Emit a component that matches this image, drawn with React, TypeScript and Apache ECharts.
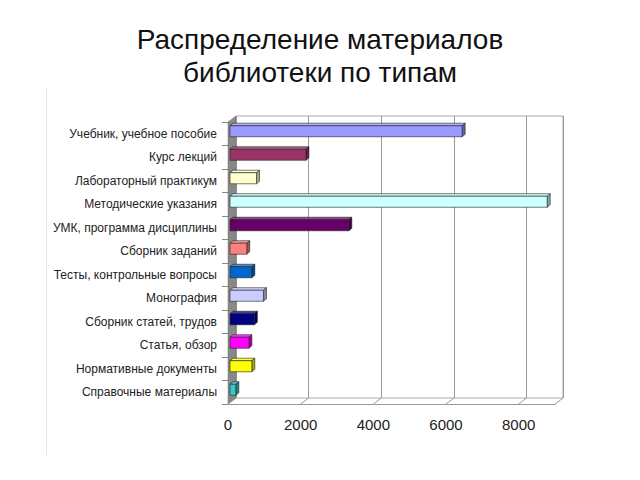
import React, { useEffect, useRef } from "react";
import * as echarts from "echarts";

const TITLE = "Распределение материалов\nбиблиотеки по типам";
const CATEGORIES = [
  "Учебник, учебное пособие",
  "Курс лекций",
  "Лабораторный практикум",
  "Методические указания",
  "УМК, программа дисциплины",
  "Сборник заданий",
  "Тесты, контрольные вопросы",
  "Монография",
  "Сборник статей, трудов",
  "Статья, обзор",
  "Нормативные документы",
  "Справочные материалы",
];
const VALUES = [6390, 2090, 730, 8730, 3270, 460, 600, 920, 670, 520, 600, 160];
const COLORS = [
  "#9999FF", "#993366", "#FFFFCC", "#CCFFFF", "#660066", "#FF8080",
  "#0066CC", "#CCCCFF", "#000080", "#FF00FF", "#FFFF00", "#33CCCC",
];
const X_MIN = 0;
const X_MAX = 9000;
const X_INTERVAL = 2000;
const FLOOR_TICKS = [0, 2000, 4000, 6000, 8000, 9000];

const DX = 8;
const DY = -6;

function shade(hex: string, f: number): string {
  const n = parseInt(hex.slice(1), 16);
  let r = (n >> 16) & 255, g = (n >> 8) & 255, b = n & 255;
  if (f < 0) {
    r = Math.round(r * (1 + f)); g = Math.round(g * (1 + f)); b = Math.round(b * (1 + f));
  } else {
    r = Math.round(r + (255 - r) * f); g = Math.round(g + (255 - g) * f); b = Math.round(b + (255 - b) * f);
  }
  return "rgb(" + r + "," + g + "," + b + ")";
}

export default function App() {
  const ref = useRef<HTMLDivElement>(null);
  useEffect(() => {
    if (!ref.current) return;
    const chart = echarts.init(ref.current, null, { renderer: "svg" });
    const font = "'Liberation Sans', Arial, sans-serif";
    const option: any = {
      animation: false,
      backgroundColor: "#ffffff",
      title: {
        text: TITLE,
        left: "center",
        top: 18,
        textStyle: {
          fontSize: 28,
          fontWeight: "normal",
          color: "#111111",
          fontFamily: font,
          lineHeight: 33,
        },
      },
      graphic: [
        {
          type: "line",
          shape: { x1: 46.5, y1: 88, x2: 46.5, y2: 455 },
          style: { stroke: "#e6e6e6", lineWidth: 1 },
          silent: true,
        },
      ],
      grid: [
        { left: 228, right: 85, top: 122, bottom: 76 },
        {
          left: 228 + DX, right: 85 - DX, top: 122 + DY, bottom: 76 - DY,
          show: true, borderColor: "#aaaaaa", borderWidth: 1, backgroundColor: "transparent",
        },
      ],
      xAxis: [
        {
          type: "value", gridIndex: 0, min: X_MIN, max: X_MAX, interval: X_INTERVAL,
          axisLine: { show: true, lineStyle: { color: "#999999" } },
          axisTick: { show: false },
          splitLine: { show: false },
          axisLabel: {
            fontSize: 15, color: "#222222", fontFamily: font, margin: 13,
            showMaxLabel: false,
            formatter: (v: number) => String(v),
          },
        },
        {
          type: "value", gridIndex: 1, min: X_MIN, max: X_MAX, interval: X_INTERVAL,
          axisLine: { show: false }, axisTick: { show: false }, axisLabel: { show: false },
          splitLine: { show: true, lineStyle: { color: "#999999", width: 1 } },
        },
      ],
      yAxis: [
        {
          type: "category", gridIndex: 0, data: CATEGORIES, inverse: true,
          axisLine: { show: true, lineStyle: { color: "#888888" } },
          axisTick: { show: true, length: 6, lineStyle: { color: "#888888" } },
          axisLabel: { fontSize: 12, color: "#222222", fontFamily: font, margin: 11 },
        },
        {
          type: "category", gridIndex: 1, data: CATEGORIES, inverse: true,
          show: false,
        },
      ],
      series: [
        {
          type: "custom",
          name: "frame",
          xAxisIndex: 0,
          yAxisIndex: 0,
          clip: false,
          silent: true,
          z: 1,
          data: FLOOR_TICKS.map((t) => [t, CATEGORIES.length - 1]),
          encode: { x: 0, y: 1 },
          renderItem: (params: any, api: any) => {
            const cs = params.coordSys;
            const p = api.coord([api.value(0), 0]);
            const bottom = cs.y + cs.height;
            const children: any[] = [
              {
                type: "line",
                shape: { x1: p[0], y1: bottom, x2: p[0] + DX, y2: bottom + DY },
                style: { stroke: "#999999", lineWidth: 1 },
              },
            ];
            if (params.dataIndex === 0) {
              children.unshift({
                type: "polygon",
                shape: {
                  points: [
                    [cs.x, cs.y],
                    [cs.x + DX, cs.y + DY],
                    [cs.x + DX, bottom + DY],
                    [cs.x, bottom],
                  ],
                },
                style: { fill: "#888888", stroke: "#777777", lineWidth: 0.5 },
              });
            }
            return { type: "group", children };
          },
        },
        {
          type: "custom",
          name: "bars",
          xAxisIndex: 0,
          yAxisIndex: 0,
          clip: false,
          z: 3,
          data: VALUES.map((v, i) => [v, i]),
          encode: { x: 0, y: 1 },
          renderItem: (params: any, api: any) => {
            const i = api.value(1);
            const s = api.coord([0, i]);
            const e = api.coord([api.value(0), i]);
            const band = api.size([0, 1])[1];
            const h = band * 0.47;
            const x0 = s[0] + 2;
            const x1 = e[0] + 2;
            const yTop = s[1] - h / 2 - 2.5;
            const yBot = yTop + h;
            const d = 3;
            const dh = -2.5;
            const c = COLORS[params.dataIndex];
            const edge = { stroke: "#222222", lineWidth: 0.6 };
            return {
              type: "group",
              children: [
                {
                  type: "polygon",
                  shape: { points: [[x0, yTop], [x0 + d, yTop + dh], [x1 + d, yTop + dh], [x1, yTop]] },
                  style: { fill: shade(c, 0.25), ...edge },
                },
                {
                  type: "polygon",
                  shape: { points: [[x1, yTop], [x1 + d, yTop + dh], [x1 + d, yBot + dh], [x1, yBot]] },
                  style: { fill: shade(c, -0.35), ...edge },
                },
                {
                  type: "rect",
                  shape: { x: x0, y: yTop, width: x1 - x0, height: h },
                  style: { fill: c, ...edge },
                },
              ],
            };
          },
        },
      ],
    };
    chart.setOption(option);
    return () => chart.dispose();
  }, []);
  return <div ref={ref} style={{ width: 640, height: 480, margin: -8 }} />;
}
